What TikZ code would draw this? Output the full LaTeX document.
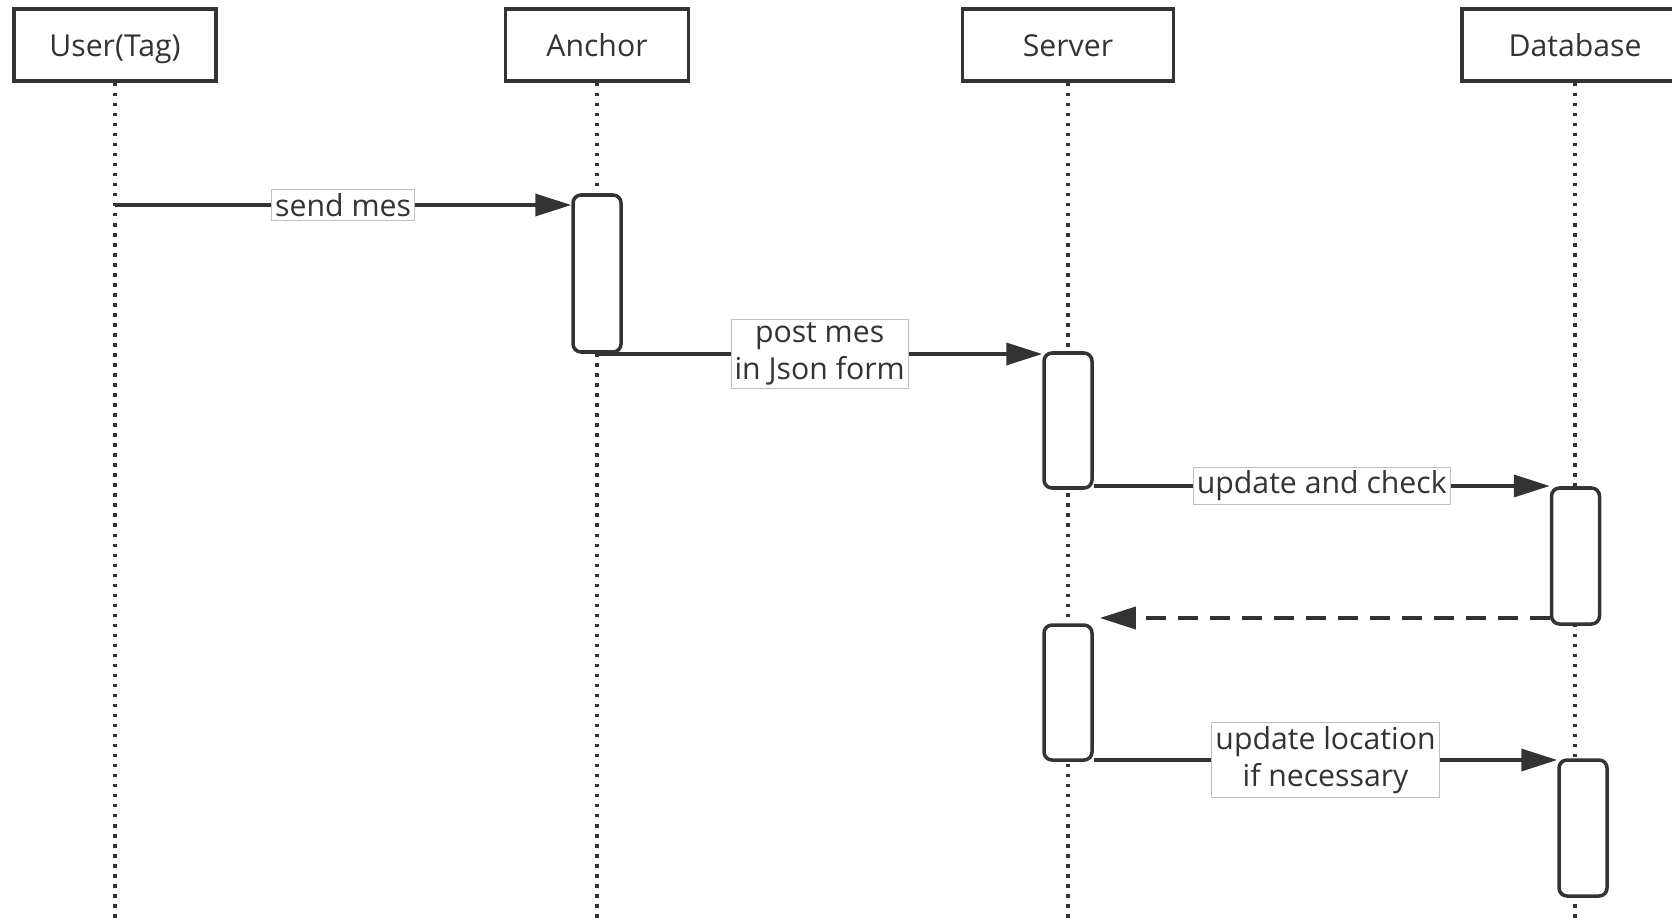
\documentclass[tikz,border=0pt]{standalone}
\usepackage{fontspec}
\setmainfont{Open Sans}
\usetikzlibrary{calc, positioning}
\usetikzlibrary{arrows.meta}
\definecolor{ink}{HTML}{333333}

\begin{document}
\begin{tikzpicture}[
  font=\fontsize{8.6}{10.6}\selectfont,
  head/.style={draw=ink, line width=1pt, minimum height=0.72cm, text=ink,
    text height=0.78em, text depth=0.1em},
  life/.style={ink, line width=1.05pt, dash pattern=on 1pt off 1.85pt},
  act/.style={draw=ink, fill=white, line width=1pt, rounded corners=0.8mm,
    minimum width=0.48cm, inner sep=0pt},
  msg/.style={ink, line width=1pt, -{Triangle[length=0.36cm, width=0.22cm]}},
  reply/.style={msg, dash pattern=on 2mm off 1.2mm},
  lbl/.style={fill=white, draw=gray!50, line width=0.3pt, inner sep=1pt,
    text=ink, align=center}
]
\useasboundingbox (0,0) rectangle (16.72,-9.21);
\coordinate (bottom) at (0,-9.21);

\node[head, minimum width=2.02cm] (user) at (1.15,-0.45) {User(Tag)};
\node[head, minimum width=1.83cm] (anchor) at (5.97,-0.45) {Anchor};
\node[head, minimum width=2.11cm] (server) at (10.68,-0.45) {Server};
\node[head, minimum width=2.26cm] (db) at (15.75,-0.45) {Database};

\foreach \n in {user, anchor, server, db}
  \draw[life] (\n.south) -- (\n.south |- bottom);

\coordinate (m1) at (0,-2.05);
\coordinate (m2) at (0,-3.54);
\coordinate (m3) at (0,-4.86);
\coordinate (m4) at (0,-6.18);
\coordinate (m5) at (0,-7.60);

\node[act, minimum height=1.57cm] (actA) at (5.97,-2.735) {};
\node[act, minimum height=1.35cm] (actS1) at (10.68,-4.205) {};
\node[act, minimum height=1.36cm] (actD1) at (15.755,-5.56) {};
\node[act, minimum height=1.35cm] (actS2) at (10.68,-6.925) {};
\node[act, minimum height=1.36cm] (actD2) at (15.83,-8.28) {};

\draw[msg] (user.south |- m1) -- (actA.west |- m1)
  node[lbl, midway] {send mes};
\draw[msg] (actA.south |- m2) -- (actS1.west |- m2)
  node[lbl, midway] {post mes\\in Json form};
\draw[msg] (actS1.east |- m3) -- (actD1.west |- m3)
  node[lbl, midway] {update and check};
\draw[reply, shorten >=0.6mm] (actD1.west |- m4) -- (actS2.east |- m4);
\draw[msg] (actS2.east |- m5) -- (actD2.west |- m5)
  node[lbl, midway] {update location\\if necessary};
\end{tikzpicture}
\end{document}
